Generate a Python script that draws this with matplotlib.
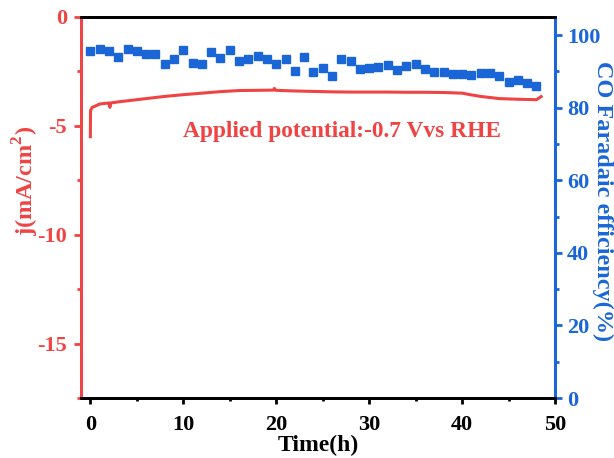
import numpy as np
import matplotlib
matplotlib.use('Agg')
from matplotlib import pyplot as plt
from matplotlib.ticker import MultipleLocator

plt.rcParams['font.family'] = ['Liberation Serif', 'DejaVu Serif']
plt.rcParams['font.weight'] = 'bold'
plt.rcParams['axes.unicode_minus'] = False
plt.rcParams['mathtext.fontset'] = 'custom'
plt.rcParams['mathtext.rm'] = 'Liberation Serif:bold'
plt.rcParams['mathtext.bf'] = 'Liberation Serif:bold'

red = '#F04343'
blue = '#1A66D6'

# current density vs time
t_j = [0, 0.02, 0.2, 0.5, 1, 2, 2.1, 2.2, 3, 4, 6, 8, 10, 12, 14, 16, 18, 19.7, 19.8, 19.9,
       20, 22, 24, 26, 28, 30, 32, 34, 36, 38, 40, 41, 42, 43, 44, 46, 48, 48.5]
j = [-5.5, -4.3, -4.15, -4.1, -4.0, -3.95, -4.15, -3.95, -3.9, -3.85, -3.75, -3.65, -3.57,
     -3.5, -3.43, -3.38, -3.37, -3.36, -3.28, -3.36, -3.37, -3.4, -3.42, -3.44, -3.45, -3.45,
     -3.45, -3.46, -3.46, -3.47, -3.5, -3.58, -3.65, -3.7, -3.75, -3.78, -3.8, -3.66]

# CO Faradaic efficiency, one point per hour
t_fe = list(range(0, 49))
fe = [95.6, 96.1, 95.6, 94.1, 96.3, 95.6, 94.8, 94.9, 92.0, 93.4,
      95.8, 92.2, 92.0, 95.4, 93.6, 95.9, 92.8, 93.3, 94.3, 93.3,
      92.0, 93.3, 90.2, 94.1, 89.8, 90.9, 88.6, 93.4, 92.8, 90.6,
      90.8, 91.1, 91.7, 90.4, 91.6, 92.0, 90.6, 89.7, 89.7, 89.2,
      89.2, 89.0, 89.5, 89.5, 88.6, 87.1, 87.5, 86.8, 86.0]

fig = plt.figure(figsize=(6.14, 4.58), dpi=100)
ax = fig.add_axes([0.132, 0.131, 0.772, 0.832])
ax2 = ax.twinx()

ax.plot(t_j, j, color=red, lw=2.2)
ax2.plot(t_fe, fe, 's', color=blue, ms=5.5, mec=blue)

ax.set_xlim(-1, 50)
ax.set_ylim(-17.5, 0)
ax2.set_ylim(0, 105)

ax.xaxis.set_major_locator(MultipleLocator(10))
ax.xaxis.set_minor_locator(MultipleLocator(5))
ax.yaxis.set_major_locator(MultipleLocator(5))
ax.yaxis.set_minor_locator(MultipleLocator(2.5))
ax2.yaxis.set_major_locator(MultipleLocator(20))
ax2.yaxis.set_minor_locator(MultipleLocator(10))

for a in (ax, ax2):
    for s in a.spines.values():
        s.set_linewidth(2)
    a.spines['left'].set_color(red)
    a.spines['right'].set_color(blue)

ax.tick_params(axis='x', which='both', direction='out', width=2, labelsize=16)
ax.tick_params(axis='x', which='major', length=4.5, pad=8)
ax.tick_params(axis='x', which='minor', length=2.5)
ax.tick_params(axis='y', which='both', direction='out', width=2, color=red,
               labelcolor=red, labelsize=16)
ax.tick_params(axis='y', which='major', length=5, pad=5)
ax.tick_params(axis='y', which='minor', length=3)
ax2.tick_params(axis='y', which='both', direction='out', width=2, color=blue,
                labelcolor=blue, labelsize=16)
ax2.tick_params(axis='y', which='major', length=5)
ax2.tick_params(axis='y', which='minor', length=3)

ax.set_xlabel('Time(h)', fontsize=17, fontweight='bold', labelpad=0)
ax.set_ylabel('j(mA/cm$^2$)', fontsize=17.5, fontweight='bold', color=red)
ax.yaxis.set_label_coords(-0.085, 0.57)
ax2.set_ylabel('CO Faradaic efficiency(%)', fontsize=17.5, fontweight='bold', color=blue,
               rotation=270, va='bottom')
ax2.yaxis.set_label_coords(1.078, 0.517)

ax.text(10, -5.5, 'Applied potential:-0.7 Vvs RHE', color=red, fontsize=16.8,
        fontweight='bold')

fig.savefig('out.png', dpi=100)
